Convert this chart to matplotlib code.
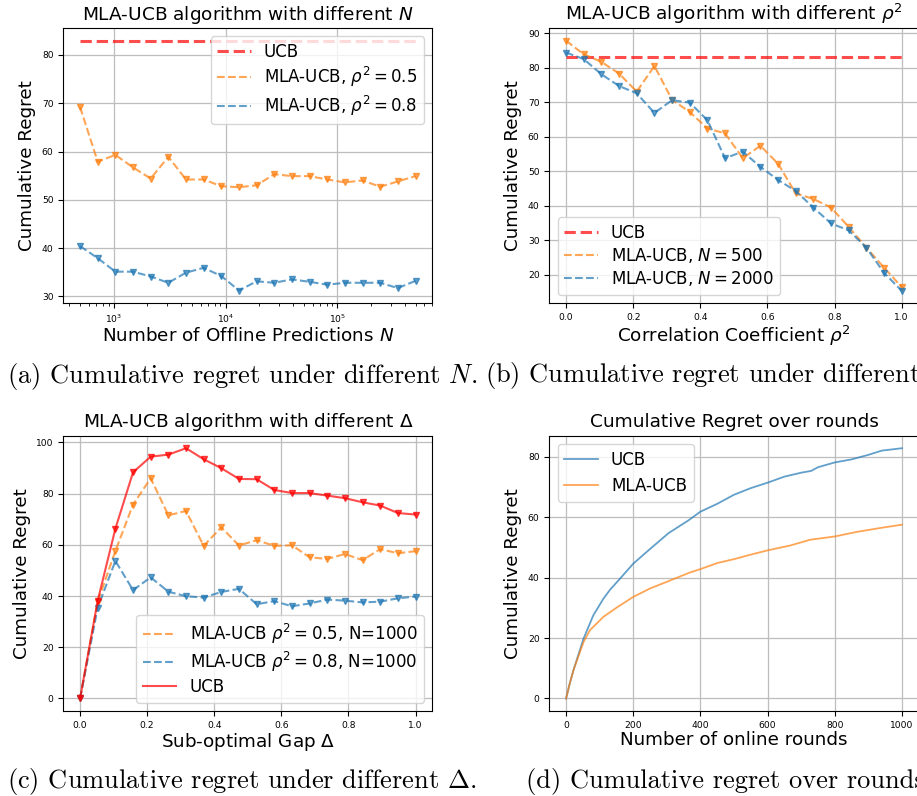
import matplotlib
matplotlib.use("Agg")
import matplotlib.pyplot as plt

# ---------------- data ----------------
# (a) regret vs number of offline predictions N
N_values = [500, 719, 1034, 1488, 2140, 3078, 4428, 6369, 9161, 13177,
            18954, 27264, 39216, 56409, 81139, 116710, 167876, 241474, 347338, 500000]
regret_N_rho05 = [69.2, 57.9, 59.3, 56.7, 54.4, 58.9, 54.2, 54.2, 52.8, 52.6,
                  53.0, 55.3, 54.9, 54.9, 54.2, 53.6, 54.0, 52.7, 53.8, 54.9]
regret_N_rho08 = [40.4, 37.9, 35.1, 35.1, 34.1, 32.8, 34.9, 35.9, 34.2, 31.2,
                  33.1, 32.8, 33.5, 33.0, 32.4, 32.8, 32.8, 32.8, 31.7, 33.2]
ucb_regret = 83.0

# (b) regret vs correlation coefficient rho^2
rho2_values = [0.00, 0.0526, 0.1053, 0.1579, 0.2105, 0.2632, 0.3158, 0.3684, 0.4211, 0.4737,
               0.5263, 0.5789, 0.6316, 0.6842, 0.7368, 0.7895, 0.8421, 0.8947, 0.9474, 1.00]
regret_rho_N500 = [87.8, 83.9, 81.7, 78.3, 73.1, 80.5, 70.7, 67.2, 62.4, 61.0,
                   53.8, 57.4, 52.2, 43.6, 42.0, 39.5, 33.9, 27.9, 22.1, 16.5]
regret_rho_N2000 = [84.4, 82.5, 78.1, 74.7, 72.6, 66.9, 70.6, 69.9, 64.8, 53.8,
                    55.7, 51.3, 47.5, 44.3, 39.5, 34.9, 32.9, 27.9, 20.6, 15.4]

# (c) regret vs sub-optimal gap Delta
delta_values = [0.00, 0.0526, 0.1053, 0.1579, 0.2105, 0.2632, 0.3158, 0.3684, 0.4211, 0.4737,
                0.5263, 0.5789, 0.6316, 0.6842, 0.7368, 0.7895, 0.8421, 0.8947, 0.9474, 1.00]
regret_delta_rho05 = [0.0, 37.8, 57.6, 75.7, 86.0, 71.5, 73.2, 59.6, 66.8, 59.7,
                      61.8, 59.6, 59.8, 55.1, 54.5, 56.4, 54.0, 58.3, 56.7, 57.5]
regret_delta_rho08 = [0.0, 35.5, 53.7, 42.3, 47.3, 41.7, 39.9, 39.4, 41.6, 42.8,
                      36.8, 38.0, 36.0, 37.1, 38.6, 38.2, 37.5, 37.8, 39.1, 39.8]
regret_delta_ucb = [0.0, 38.2, 66.3, 88.3, 94.4, 95.2, 97.7, 93.4, 89.9, 85.7,
                    85.6, 81.4, 80.2, 80.2, 79.2, 78.2, 76.6, 75.3, 72.4, 71.8]

# (d) cumulative regret over online rounds
rounds_ucb = [0, 11, 22, 52, 81, 111, 131, 161, 200, 240, 305, 364, 400, 450, 500,
              550, 600, 650, 700, 730, 750, 800, 850, 900, 940, 1000]
curve_ucb = [0.0, 5.0, 9.4, 19.8, 27.5, 33.0, 36.0, 39.7, 44.6, 48.5, 54.7, 58.9, 61.8, 64.4, 67.4,
             69.6, 71.4, 73.4, 74.7, 75.3, 76.5, 78.1, 79.1, 80.6, 82.0, 82.8]
rounds_mla = [0, 11, 22, 52, 71, 111, 151, 200, 250, 300, 369, 400, 450, 500,
              550, 600, 667, 726, 800, 865, 935, 1000]
curve_mla = [0.0, 5.0, 9.4, 18.7, 22.6, 27.0, 30.1, 33.6, 36.4, 38.6, 41.7, 42.8, 44.8, 46.1,
             47.6, 49.0, 50.6, 52.5, 53.6, 55.1, 56.4, 57.5]

captions = ["(a) Cumulative regret under different $N$.",
            r"(b) Cumulative regret under different $\rho^2$.",
            r"(c) Cumulative regret under different $\Delta$.",
            "(d) Cumulative regret over rounds."]

# ---------------- style ----------------
ORANGE = "#ff7f0e"
BLUE = "#1f77b4"
RED = "red"
AL = 0.7
TITLE_FS = 13.3
LABEL_FS = 13.2
TICK_FS = 6.6
LEG_FS = 12

fig = plt.figure(figsize=(9.17, 7.96), dpi=100)

W, H = 917.0, 796.0
def box(l, t, r, b):
    return [l / W, (H - b) / H, (r - l) / W, (b - t) / H]

ax_a = fig.add_axes(box(63.3, 28.0, 432.3, 303.0))
ax_b = fig.add_axes(box(549.3, 28.3, 918.5, 303.3))
ax_c = fig.add_axes(box(63.3, 435.7, 432.3, 711.0))
ax_d = fig.add_axes(box(549.3, 435.7, 918.7, 711.0))

def style(ax, title, xlabel):
    ax.set_title(title, fontsize=TITLE_FS)
    ax.set_xlabel(xlabel, fontsize=LABEL_FS, labelpad=1.0)
    ax.set_ylabel("Cumulative Regret", fontsize=LABEL_FS)
    ax.tick_params(labelsize=TICK_FS)
    ax.grid(True, color="#bdbdbd", linewidth=0.9)

# (a)
ax_a.plot([N_values[0], N_values[-1]], [ucb_regret, ucb_regret], "--", color=RED,
          alpha=AL, lw=2.2, label="UCB")
ax_a.plot(N_values, regret_N_rho05, "--", color=ORANGE, alpha=AL, lw=1.5,
          label=r"MLA-UCB, $\rho^2=0.5$")
ax_a.plot(N_values, regret_N_rho05, "v", color=ORANGE, alpha=AL, ms=5)
ax_a.plot(N_values, regret_N_rho08, "--", color=BLUE, alpha=AL, lw=1.5,
          label=r"MLA-UCB, $\rho^2=0.8$")
ax_a.plot(N_values, regret_N_rho08, "v", color=BLUE, alpha=AL, ms=5)
ax_a.set_xscale("log")
style(ax_a, "MLA-UCB algorithm with different $N$", "Number of Offline Predictions $N$")
ax_a.legend(loc="upper right", fontsize=LEG_FS, labelspacing=0.25)

# (b)
ax_b.plot([rho2_values[0], rho2_values[-1]], [ucb_regret, ucb_regret], "--", color=RED,
          alpha=AL, lw=2.2, label="UCB")
ax_b.plot(rho2_values, regret_rho_N500, "--", color=ORANGE, alpha=AL, lw=1.5,
          label="MLA-UCB, $N=500$")
ax_b.plot(rho2_values, regret_rho_N500, "v", color=ORANGE, alpha=AL, ms=5)
ax_b.plot(rho2_values, regret_rho_N2000, "--", color=BLUE, alpha=AL, lw=1.5,
          label="MLA-UCB, $N=2000$")
ax_b.plot(rho2_values, regret_rho_N2000, "v", color=BLUE, alpha=AL, ms=5)
style(ax_b, r"MLA-UCB algorithm with different $\rho^2$", r"Correlation Coefficient $\rho^2$")
ax_b.legend(loc="lower left", fontsize=LEG_FS, labelspacing=0.25)

# (c)
ax_c.plot(delta_values, regret_delta_rho05, "--", color=ORANGE, alpha=AL, lw=1.5,
          label=r"MLA-UCB $\rho^2=0.5$, N=1000")
ax_c.plot(delta_values, regret_delta_rho05, "v", color=ORANGE, alpha=AL, ms=5)
ax_c.plot(delta_values, regret_delta_rho08, "--", color=BLUE, alpha=AL, lw=1.5,
          label=r"MLA-UCB $\rho^2=0.8$, N=1000")
ax_c.plot(delta_values, regret_delta_rho08, "v", color=BLUE, alpha=AL, ms=5)
ax_c.plot(delta_values, regret_delta_ucb, "-", color=RED, alpha=AL, lw=1.5, label="UCB")
ax_c.plot(delta_values, regret_delta_ucb, "v", color=RED, alpha=AL, ms=5)
style(ax_c, r"MLA-UCB algorithm with different $\Delta$", r"Sub-optimal Gap $\Delta$")
ax_c.legend(loc="lower right", fontsize=LEG_FS, labelspacing=0.25)

# (d)
ax_d.plot(rounds_ucb, curve_ucb, color=BLUE, alpha=AL, lw=1.3, label="UCB")
ax_d.plot(rounds_mla, curve_mla, color=ORANGE, alpha=AL, lw=1.3, label="MLA-UCB")
style(ax_d, "Cumulative Regret over rounds", "Number of online rounds")
ax_d.legend(loc="upper left", fontsize=LEG_FS)

# captions
cap_kw = dict(fontsize=19.0, family="cmr10", math_fontfamily="cm", va="baseline", ha="left")
fig.text(7 / W, 1 - 383.5 / H, captions[0], **cap_kw)
fig.text(485 / W, 1 - 383.5 / H, captions[1], **cap_kw)
fig.text(7 / W, 1 - 788.0 / H, captions[2], **cap_kw)
fig.text(525.5 / W, 1 - 788.0 / H, captions[3], **cap_kw)

fig.savefig("out.png", dpi=100)
